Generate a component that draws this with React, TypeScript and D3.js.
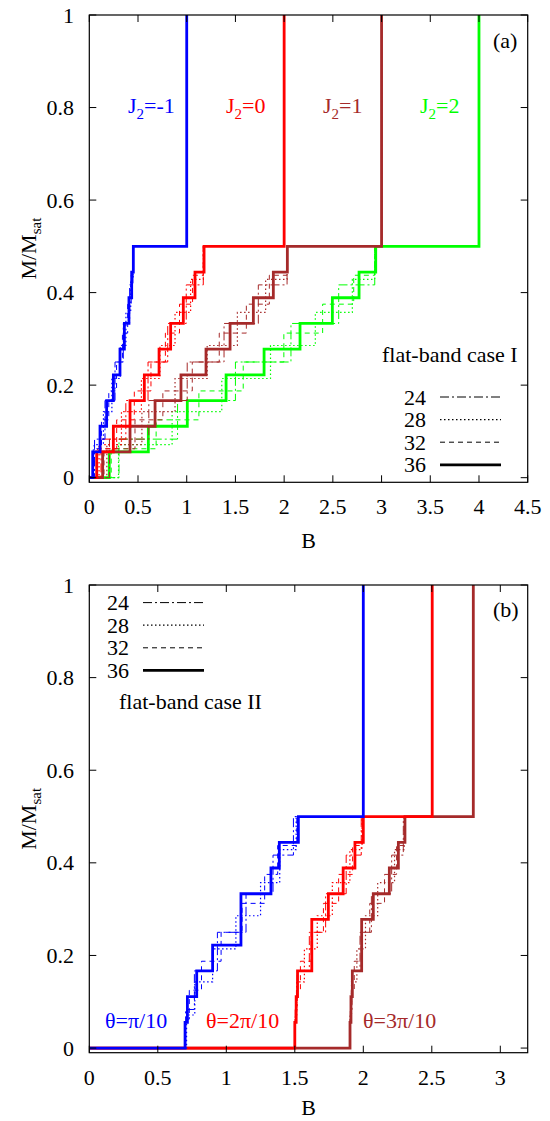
import React from "react";
import * as d3 from "d3";

const W = 550;
const H = 1121;
const FONT = "'Liberation Serif', 'Times New Roman', serif";
const FS = 22;

const BLUE = "#0000ff";
const RED = "#ff0000";
const BROWN = "#a52a2a";
const GREEN = "#00ff00";

// magnetization levels (M/Msat after each jump) for each system size
const L24 = [0.0833, 0.1667, 0.25, 0.3333, 0.4167, 0.5, 1];
const L28 = [0.0714, 0.1429, 0.2143, 0.2857, 0.3571, 0.4286, 0.5, 1];
const L32 = [0.0625, 0.125, 0.1875, 0.25, 0.3125, 0.375, 0.4375, 0.5, 1];
const L36 = [0.0556, 0.1111, 0.1667, 0.2222, 0.2778, 0.3333, 0.3889, 0.4444, 0.5, 1];
const L36_SKIP5 = [0.0556, 0.1111, 0.1667, 0.2222, 0.3333, 0.3889, 0.4444, 0.5, 1];
const L36_SKIP4 = [0.0556, 0.1111, 0.1667, 0.2778, 0.3333, 0.3889, 0.4444, 0.5, 1];

// panel (a): jump fields B
const A_BLUE_24 = [0.054, 0.161, 0.264, 0.349, 0.414, 0.448, 1.0];
const A_BLUE_28 = [0.05, 0.145, 0.232, 0.318, 0.376, 0.425, 0.45, 1.0];
const A_BLUE_32 = [0.04, 0.125, 0.2, 0.28, 0.34, 0.394, 0.43, 0.45, 1.0];
const A_BLUE_36 = [0.035, 0.11, 0.178, 0.247, 0.315, 0.36, 0.407, 0.435, 0.452, 1.0];

const A_RED_24 = [0.12, 0.375, 0.603, 0.805, 0.995, 1.17, 2.0];
const A_RED_28 = [0.1, 0.33, 0.535, 0.725, 0.88, 1.04, 1.17, 2.0];
const A_RED_32 = [0.085, 0.281, 0.462, 0.633, 0.781, 0.926, 1.06, 1.17, 2.0];
const A_RED_36 = [0.076, 0.247, 0.418, 0.565, 0.716, 0.835, 0.965, 1.085, 1.178, 2.0];

const A_BROWN_24 = [0.207, 0.611, 1.005, 1.383, 1.735, 2.03, 3.0];
const A_BROWN_28 = [0.18, 0.54, 0.88, 1.21, 1.52, 1.81, 2.03, 3.0];
const A_BROWN_32 = [0.151, 0.469, 0.755, 1.057, 1.334, 1.612, 1.848, 2.03, 3.0];
const A_BROWN_36 = [0.137, 0.418, 0.675, 0.941, 1.198, 1.445, 1.684, 1.889, 2.033, 3.0];

const A_GREEN_24 = [0.305, 0.906, 1.5, 2.07, 2.56, 2.93, 4.0];
const A_GREEN_28 = [0.3, 0.85, 1.36, 1.86, 2.32, 2.7, 2.93, 4.0];
const A_GREEN_32 = [0.225, 0.686, 1.125, 1.58, 1.997, 2.395, 2.714, 2.93, 4.0];
const A_GREEN_36 = [0.205, 0.606, 1.006, 1.404, 1.794, 2.163, 2.495, 2.769, 2.94, 4.0];

// panel (b): jump fields B
const B_BLUE_24 = [0.703, 0.767, 0.935, 1.144, 1.341, 1.49, 2.0];
const B_BLUE_28 = [0.71, 0.77, 0.9, 1.07, 1.25, 1.39, 1.51, 2.0];
const B_BLUE_32 = [0.7, 0.73, 0.819, 0.962, 1.115, 1.28, 1.375, 1.515, 2.0];
const B_BLUE_36 = [0.699, 0.716, 0.784, 0.9, 1.107, 1.326, 1.387, 1.526, 2.0];

const B_RED_24 = [1.503, 1.518, 1.606, 1.725, 1.875, 1.985, 2.5];
const B_RED_28 = [1.502, 1.514, 1.57, 1.664, 1.774, 1.902, 1.99, 2.5];
const B_RED_32 = [1.5, 1.512, 1.541, 1.62, 1.709, 1.82, 1.922, 1.995, 2.5];
const B_RED_36 = [1.5, 1.51, 1.52, 1.624, 1.745, 1.853, 1.939, 2.0, 2.503];

const B_BROWN_24 = [1.905, 1.918, 1.976, 2.059, 2.207, 2.292, 2.8];
const B_BROWN_28 = [1.904, 1.914, 1.953, 2.016, 2.105, 2.228, 2.298, 2.8];
const B_BROWN_32 = [1.903, 1.912, 1.934, 1.985, 2.047, 2.155, 2.243, 2.3, 2.8];
const B_BROWN_36 = [1.903, 1.91, 1.92, 1.988, 2.073, 2.19, 2.256, 2.304, 2.803];

const SIZES = ["24", "28", "32", "36"];
const A_X_TICKS = [0, 0.5, 1, 1.5, 2, 2.5, 3, 3.5, 4, 4.5];
const B_X_TICKS = [0, 0.5, 1, 1.5, 2, 2.5, 3];
const Y_TICKS = [0, 0.2, 0.4, 0.6, 0.8, 1];

type Series = { color: string; n: string; B: number[]; M: number[] };

const STYLE: Record<string, { dash?: string; w: number }> = {
  "24": { dash: "9,3,2,3", w: 1 },
  "28": { dash: "1.5,2.5", w: 1.2 },
  "32": { dash: "5,4", w: 1 },
  "36": { w: 2.8 },
};

const A_SERIES: Series[] = [
  { color: GREEN, n: "24", B: A_GREEN_24, M: L24 },
  { color: GREEN, n: "28", B: A_GREEN_28, M: L28 },
  { color: GREEN, n: "32", B: A_GREEN_32, M: L32 },
  { color: GREEN, n: "36", B: A_GREEN_36, M: L36 },
  { color: BROWN, n: "24", B: A_BROWN_24, M: L24 },
  { color: BROWN, n: "28", B: A_BROWN_28, M: L28 },
  { color: BROWN, n: "32", B: A_BROWN_32, M: L32 },
  { color: BROWN, n: "36", B: A_BROWN_36, M: L36 },
  { color: RED, n: "24", B: A_RED_24, M: L24 },
  { color: RED, n: "28", B: A_RED_28, M: L28 },
  { color: RED, n: "32", B: A_RED_32, M: L32 },
  { color: RED, n: "36", B: A_RED_36, M: L36 },
  { color: BLUE, n: "24", B: A_BLUE_24, M: L24 },
  { color: BLUE, n: "28", B: A_BLUE_28, M: L28 },
  { color: BLUE, n: "32", B: A_BLUE_32, M: L32 },
  { color: BLUE, n: "36", B: A_BLUE_36, M: L36 },
];

const B_SERIES: Series[] = [
  { color: BROWN, n: "24", B: B_BROWN_24, M: L24 },
  { color: BROWN, n: "28", B: B_BROWN_28, M: L28 },
  { color: BROWN, n: "32", B: B_BROWN_32, M: L32 },
  { color: BROWN, n: "36", B: B_BROWN_36, M: L36_SKIP4 },
  { color: RED, n: "24", B: B_RED_24, M: L24 },
  { color: RED, n: "28", B: B_RED_28, M: L28 },
  { color: RED, n: "32", B: B_RED_32, M: L32 },
  { color: RED, n: "36", B: B_RED_36, M: L36_SKIP4 },
  { color: BLUE, n: "24", B: B_BLUE_24, M: L24 },
  { color: BLUE, n: "28", B: B_BLUE_28, M: L28 },
  { color: BLUE, n: "32", B: B_BLUE_32, M: L32 },
  { color: BLUE, n: "36", B: B_BLUE_36, M: L36_SKIP5 },
];

const LEFT = 89.3;
const RIGHT = 527.7;

function fmt(v: number) {
  return String(+v.toFixed(2));
}

function Panel(props: {
  top: number;
  bottom: number;
  xmax: number;
  xticks: number[];
  series: Series[];
  xlabelY: number;
  children?: React.ReactNode;
}) {
  const { top, bottom, xmax, xticks, series } = props;
  const x = d3.scaleLinear().domain([0, xmax]).range([LEFT, RIGHT]);
  const y = d3.scaleLinear().domain([-0.01, 1]).range([bottom, top]);
  const line = d3
    .line<[number, number]>()
    .x((d) => x(d[0]))
    .y((d) => y(d[1]))
    .curve(d3.curveStepAfter);
  const T = 7;
  return (
    <g>
      {series.map((s, i) => {
        const pts: [number, number][] = [[0, 0]];
        s.B.forEach((b, k) => pts.push([b, s.M[k]]));
        const st = STYLE[s.n];
        return (
          <path
            key={i}
            d={line(pts) || ""}
            fill="none"
            stroke={s.color}
            strokeWidth={st.w}
            strokeDasharray={st.dash}
          />
        );
      })}
      <rect x={LEFT} y={top} width={RIGHT - LEFT} height={bottom - top} fill="none" stroke="#000" strokeWidth={1.2} />
      {xticks.map((t) => (
        <g key={"x" + t}>
          <line x1={x(t)} x2={x(t)} y1={bottom} y2={bottom - T} stroke="#000" strokeWidth={1} />
          <line x1={x(t)} x2={x(t)} y1={top} y2={top + T} stroke="#000" strokeWidth={1} />
          <text x={x(t)} y={bottom + 32} textAnchor="middle" fontFamily={FONT} fontSize={FS}>
            {fmt(t)}
          </text>
        </g>
      ))}
      {Y_TICKS.map((t) => (
        <g key={"y" + t}>
          <line x1={LEFT} x2={LEFT + T} y1={y(t)} y2={y(t)} stroke="#000" strokeWidth={1} />
          <line x1={RIGHT} x2={RIGHT - T} y1={y(t)} y2={y(t)} stroke="#000" strokeWidth={1} />
          <text x={74} y={y(t) + 7.5} textAnchor="end" fontFamily={FONT} fontSize={FS}>
            {fmt(t)}
          </text>
        </g>
      ))}
      <text x={(LEFT + RIGHT) / 2} y={props.xlabelY} textAnchor="middle" fontFamily={FONT} fontSize={FS}>
        B
      </text>
      <text
        transform={`translate(36,${(top + bottom) / 2}) rotate(-90)`}
        textAnchor="middle"
        fontFamily={FONT}
        fontSize={FS}
      >
        M/M<tspan fontSize={15} dy={5}>sat</tspan>
      </text>
      {props.children}
    </g>
  );
}

function Legend(props: { xr: number; y0: number; x1: number; x2: number }) {
  const { xr, y0, x1, x2 } = props;
  return (
    <g>
      {SIZES.map((n, i) => {
        const yy = y0 + i * 22.6;
        const st = STYLE[n];
        return (
          <g key={n}>
            <text x={xr} y={yy + 7.5} textAnchor="end" fontFamily={FONT} fontSize={FS}>
              {n}
            </text>
            <line x1={x1} x2={x2} y1={yy} y2={yy} stroke="#000" strokeWidth={st.w} strokeDasharray={st.dash} />
          </g>
        );
      })}
    </g>
  );
}

function JLabel(props: { x: number; y: number; color: string; v: string }) {
  return (
    <text x={props.x} y={props.y} fontFamily={FONT} fontSize={FS} fill={props.color}>
      J<tspan fontSize={15} dy={6}>2</tspan>
      <tspan dy={-6}>={props.v}</tspan>
    </text>
  );
}

export default function App() {
  return (
    <div style={{ position: "absolute", left: 0, top: 0 }}>
      <style>{"body{margin:0}"}</style>
      <svg width={W} height={H} style={{ display: "block", background: "#fff" }}>
        <Panel top={15} bottom={482.3} xmax={4.5} xticks={A_X_TICKS} series={A_SERIES} xlabelY={548}>
          <JLabel x={128} y={113} color={BLUE} v="-1" />
          <JLabel x={226} y={113} color={RED} v="0" />
          <JLabel x={323} y={113} color={BROWN} v="1" />
          <JLabel x={420} y={113} color={GREEN} v="2" />
          <text x={493} y={48} fontFamily={FONT} fontSize={FS}>(a)</text>
          <text x={382} y={362} fontFamily={FONT} fontSize={FS}>flat-band case I</text>
          <Legend xr={426} y0={397} x1={440} x2={501} />
        </Panel>
        <Panel top={585} bottom={1052.7} xmax={3.2} xticks={B_X_TICKS} series={B_SERIES} xlabelY={1115}>
          <text x={493} y={617} fontFamily={FONT} fontSize={FS}>(b)</text>
          <text x={119} y={709} fontFamily={FONT} fontSize={FS}>flat-band case II</text>
          <Legend xr={129} y0={602.6} x1={143} x2={204} />
          <text x={105} y={1028} fontFamily={FONT} fontSize={FS} fill={BLUE}>θ=π/10</text>
          <text x={206} y={1028} fontFamily={FONT} fontSize={FS} fill={RED}>θ=2π/10</text>
          <text x={363} y={1028} fontFamily={FONT} fontSize={FS} fill={BROWN}>θ=3π/10</text>
        </Panel>
      </svg>
    </div>
  );
}
